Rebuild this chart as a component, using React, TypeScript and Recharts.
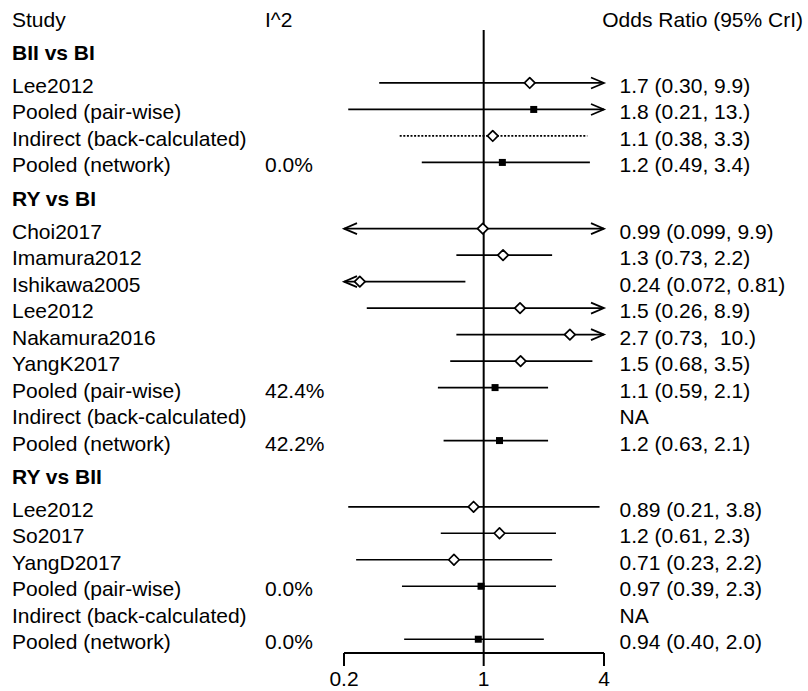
import React from 'react';
import { ScatterChart, Scatter, XAxis, YAxis, ReferenceLine } from 'recharts';

const FONT = "'Liberation Sans', Arial, Helvetica, sans-serif";
const FS = 21;

// ---------- data ----------
const columnTitles = ['Study', 'I^2', 'Odds Ratio (95% CrI)'];
const groupNames = ['BII vs BI', 'RY vs BI', 'RY vs BII'];
const groupSizes = [4, 9, 6];

const studyLabels = [
  'Lee2012', 'Pooled (pair-wise)', 'Indirect (back-calculated)', 'Pooled (network)',
  'Choi2017', 'Imamura2012', 'Ishikawa2005', 'Lee2012', 'Nakamura2016', 'YangK2017',
  'Pooled (pair-wise)', 'Indirect (back-calculated)', 'Pooled (network)',
  'Lee2012', 'So2017', 'YangD2017', 'Pooled (pair-wise)', 'Indirect (back-calculated)', 'Pooled (network)',
];
// s = study, p = pooled, i = indirect
const rowKinds = [
  's', 'p', 'i', 'p',
  's', 's', 's', 's', 's', 's', 'p', 'i', 'p',
  's', 's', 's', 'p', 'i', 'p',
];
const estimates: (number | null)[] = [
  1.7, 1.78, 1.11, 1.24,
  0.99, 1.25, 0.24, 1.52, 2.7, 1.53, 1.14, null, 1.2,
  0.89, 1.2, 0.71, 0.97, null, 0.94,
];
const lowerCI: (number | null)[] = [
  0.3, 0.21, 0.38, 0.49,
  0.099, 0.73, 0.072, 0.26, 0.73, 0.68, 0.59, null, 0.63,
  0.21, 0.61, 0.23, 0.39, null, 0.4,
];
const upperCI: (number | null)[] = [
  9.9, 13, 3.3, 3.4,
  9.9, 2.2, 0.81, 8.9, 10, 3.5, 2.1, null, 2.1,
  3.8, 2.3, 2.2, 2.3, null, 2.0,
];
const i2Labels = [
  '', '', '', '0.0%',
  '', '', '', '', '', '', '42.4%', '', '42.2%',
  '', '', '', '0.0%', '', '0.0%',
];
const orLabels = [
  '1.7 (0.30, 9.9)', '1.8 (0.21, 13.)', '1.1 (0.38, 3.3)', '1.2 (0.49, 3.4)',
  '0.99 (0.099, 9.9)', '1.3 (0.73, 2.2)', '0.24 (0.072, 0.81)', '1.5 (0.26, 8.9)',
  '2.7 (0.73,  10.)', '1.5 (0.68, 3.5)', '1.1 (0.59, 2.1)', 'NA', '1.2 (0.63, 2.1)',
  '0.89 (0.21, 3.8)', '1.2 (0.61, 2.3)', '0.71 (0.23, 2.2)', '0.97 (0.39, 2.3)', 'NA', '0.94 (0.40, 2.0)',
];
const xTicks = [0.2, 1, 4];
const X_MIN = 0.2;
const X_MAX = 4;

// ---------- layout (row units) ----------
const HEADER_POS = -0.49;
const FIRST_POS = 2;
const GROUP_GAP = 2.5;
const HEADING_OFFSET = 1.23;
const Y_DOMAIN: [number, number] = [-1, 23.52];

type Row = {
  pos: number; label: string; kind: string; est: number | null;
  lo: number | null; hi: number | null; i2: string; or: string;
};
const rows: Row[] = [];
const headings: { pos: number; label: string }[] = [];
{
  let pos = FIRST_POS;
  let idx = 0;
  groupSizes.forEach((n, g) => {
    if (g > 0) pos += GROUP_GAP;
    headings.push({ pos: pos - HEADING_OFFSET, label: groupNames[g] });
    for (let i = 0; i < n; i++, idx++) {
      rows.push({
        pos, label: studyLabels[idx], kind: rowKinds[idx], est: estimates[idx],
        lo: lowerCI[idx], hi: upperCI[idx], i2: i2Labels[idx], or: orLabels[idx],
      });
      if (i < n - 1) pos += 1;
    }
  });
}
const yTicks = [HEADER_POS, ...headings.map((h) => h.pos), ...rows.map((r) => r.pos)];
const markerRows = rows.filter((r) => r.est != null);
const ciRows = rows.filter((r) => r.lo != null && r.hi != null);

const COL_STUDY = 12;
const COL_I2 = 265;
const COL_OR_TITLE_END = 803;
const COL_OR = 619.5;

const txt = (x: number, y: number, s: string, bold = false, key?: string, anchor = 'start') => (
  <text
    key={key}
    x={x}
    y={y}
    fill="#000"
    fontSize={FS}
    fontFamily={FONT}
    fontWeight={bold ? 'bold' : 'normal'}
    textAnchor={anchor as any}
    xmlSpace="preserve"
    style={{ whiteSpace: 'pre' }}
  >
    {s}
  </text>
);

const LabelTick = (props: any) => {
  const { y, payload } = props;
  const v = payload?.value;
  const base = y + 10;
  if (Math.abs(v - HEADER_POS) < 1e-9) {
    return (
      <g>
        {txt(COL_STUDY, base, columnTitles[0], false, 'a')}
        {txt(COL_I2, base, columnTitles[1], false, 'b')}
        {txt(COL_OR_TITLE_END, base, columnTitles[2], false, 'c', 'end')}
      </g>
    );
  }
  const h = headings.find((hh) => Math.abs(hh.pos - v) < 1e-9);
  if (h) return <g>{txt(COL_STUDY, base, h.label, true)}</g>;
  const r = rows.find((rr) => Math.abs(rr.pos - v) < 1e-9);
  if (!r) return <g />;
  return (
    <g>
      {txt(COL_STUDY, base, r.label, false, 'l')}
      {r.i2 ? txt(COL_I2, base, r.i2, false, 'i') : null}
      {txt(COL_OR, base, r.or, false, 'o')}
    </g>
  );
};

const Marker = (props: any) => {
  const { cx, cy, payload } = props;
  if (payload.kind === 'p') {
    return <rect x={cx - 3.5} y={cy - 3.5} width={7} height={7} fill="#000" />;
  }
  const s = 5.3;
  return (
    <path
      d={`M${cx},${cy - s} L${cx + s},${cy} L${cx},${cy + s} L${cx - s},${cy} Z`}
      fill="#fff"
      stroke="#000"
      strokeWidth={1.7}
      strokeLinejoin="round"
    />
  );
};

const CiShape = (p: any) => {
  const { x1, y1, x2, y2, arrowL, arrowR, dashed } = p;
  const L = 13;
  const W = 5.5;
  return (
    <g>
      <line
        x1={x1}
        y1={y1}
        x2={x2}
        y2={y2}
        stroke="#000"
        strokeWidth={1.7}
        strokeDasharray={dashed ? '2 1.6' : undefined}
      />
      {arrowR ? (
        <polyline
          points={`${x2 - L},${y2 - W} ${x2},${y2} ${x2 - L},${y2 + W}`}
          fill="none"
          stroke="#000"
          strokeWidth={1.7}
        />
      ) : null}
      {arrowL ? (
        <polyline
          points={`${x1 + L},${y1 - W} ${x1},${y1} ${x1 + L},${y1 + W}`}
          fill="none"
          stroke="#000"
          strokeWidth={1.7}
        />
      ) : null}
    </g>
  );
};

export default function App() {
  return (
    <div style={{ position: 'absolute', left: 0, top: 0, background: '#fff' }}>
      <ScatterChart
        width={808}
        height={691}
        margin={{ top: 3.5, right: 204, bottom: 0, left: 343 }}
      >
        <XAxis
          type="number"
          dataKey="est"
          scale="log"
          domain={[X_MIN, X_MAX]}
          allowDataOverflow
          ticks={xTicks}
          interval={0}
          tickFormatter={(v: number) => String(v)}
          height={38}
          tickSize={13}
          tickMargin={5}
          axisLine={{ stroke: '#000', strokeWidth: 2 }}
          tickLine={{ stroke: '#000', strokeWidth: 2 }}
          tick={{ fill: '#000', fontSize: FS, fontFamily: FONT }}
        />
        <YAxis
          type="number"
          dataKey="pos"
          domain={Y_DOMAIN}
          reversed
          allowDataOverflow
          width={1}
          axisLine={false}
          tickLine={false}
          ticks={yTicks}
          interval={0}
          tick={<LabelTick />}
        />
        {ciRows.map((r, i) => {
          const a = Math.max(r.lo as number, X_MIN);
          const b = Math.min(r.hi as number, X_MAX);
          const arrowL = (r.lo as number) < X_MIN;
          const arrowR = (r.hi as number) > X_MAX;
          const dashed = r.kind === 'i';
          return (
            <ReferenceLine
              key={`ci-${i}`}
              segment={[
                { x: a, y: r.pos },
                { x: b, y: r.pos },
              ]}
              ifOverflow="visible"
              stroke="#000"
              strokeWidth={1.7}
              shape={(p: any) => <CiShape {...p} arrowL={arrowL} arrowR={arrowR} dashed={dashed} />}
            />
          );
        })}
        <Scatter data={markerRows} shape={<Marker />} isAnimationActive={false} />
        <ReferenceLine
          segment={[
            { x: 1, y: 0 },
            { x: 1, y: Y_DOMAIN[1] },
          ]}
          ifOverflow="visible"
          stroke="#000"
          strokeWidth={2}
        />
      </ScatterChart>
    </div>
  );
}
